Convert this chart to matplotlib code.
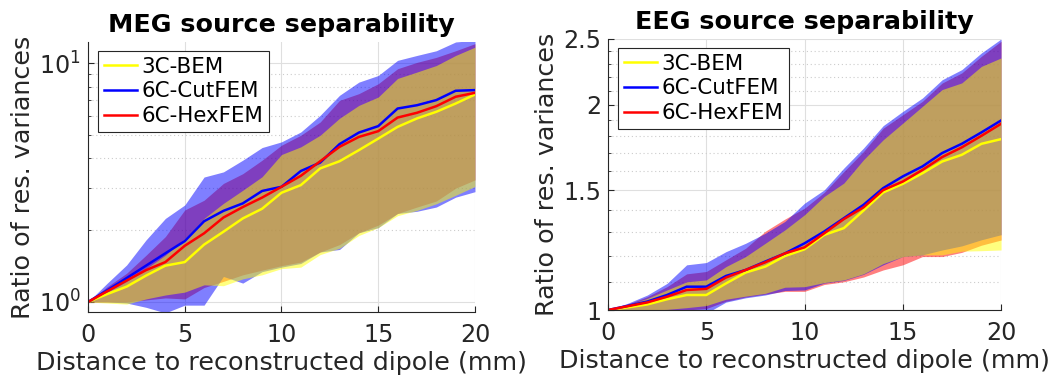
import numpy as np
import matplotlib.pyplot as plt
import matplotlib.ticker as ticker

plt.rcParams['font.family'] = ['DejaVu Sans']
plt.rcParams['mathtext.default'] = 'regular'

TXT = '#262626'

dist = np.arange(0, 21)
labels = ["3C-BEM", "6C-CutFEM", "6C-HexFEM"]
colors = ["yellow", "blue", "red"]

# MEG: mean line and band (low / high) per method
meg_bem = [1.0, 1.08, 1.16, 1.29, 1.42, 1.47, 1.74, 1.97, 2.24, 2.46, 2.87,
           3.09, 3.63, 3.89, 4.33, 4.84, 5.42, 5.88, 6.27, 6.79, 7.41]
meg_cut = [1.0, 1.12, 1.26, 1.42, 1.60, 1.80, 2.18, 2.41, 2.59, 2.92, 3.04,
           3.54, 3.84, 4.59, 5.13, 5.46, 6.47, 6.68, 7.02, 7.68, 7.73]
meg_hex = [1.0, 1.11, 1.23, 1.36, 1.47, 1.72, 1.94, 2.26, 2.50, 2.74, 3.04,
           3.38, 3.89, 4.47, 4.92, 5.20, 5.93, 6.21, 6.62, 7.25, 7.53]
meg_bem_hi = [1.0, 1.10, 1.22, 1.38, 1.57, 1.85, 2.24, 2.59, 2.94, 3.35, 4.15,
              4.47, 5.0, 5.89, 6.67, 7.23, 8.65, 9.2, 9.8, 10.8, 11.7]
meg_cut_hi = [1.0, 1.20, 1.43, 1.82, 2.24, 2.55, 3.34, 3.51, 3.93, 4.44, 4.69,
              5.16, 6.06, 7.35, 8.35, 8.9, 10.3, 10.8, 11.3, 12.3, 12.5]
meg_hex_hi = [1.0, 1.16, 1.32, 1.57, 1.88, 2.43, 2.67, 3.14, 3.45, 3.93, 4.54,
              5.0, 5.68, 7.0, 7.47, 8.22, 9.5, 10.1, 10.6, 11.3, 12.1]
meg_bem_lo = [1.0, 0.99, 0.98, 1.03, 1.07, 1.10, 1.18, 1.17, 1.25, 1.30, 1.38,
              1.40, 1.58, 1.68, 1.90, 2.05, 2.30, 2.42, 2.58, 2.80, 3.05]
meg_cut_lo = [1.0, 1.0, 0.99, 0.95, 0.90, 0.97, 0.97, 1.28, 1.20, 1.34, 1.40,
              1.45, 1.62, 1.66, 1.95, 2.05, 2.35, 2.40, 2.50, 2.75, 2.90]
meg_hex_lo = [1.0, 1.0, 1.0, 1.02, 1.04, 1.03, 1.15, 1.22, 1.30, 1.36, 1.42,
              1.47, 1.62, 1.74, 1.95, 2.10, 2.35, 2.50, 2.65, 3.0, 3.25]

# EEG
eeg_bem = [1.0, 1.009, 1.019, 1.037, 1.052, 1.052, 1.094, 1.135, 1.158, 1.2, 1.228,
           1.289, 1.319, 1.40, 1.488, 1.532, 1.588, 1.652, 1.69, 1.754, 1.782]
eeg_cut = [1.0, 1.014, 1.029, 1.052, 1.082, 1.082, 1.122, 1.145, 1.178, 1.211, 1.253,
           1.304, 1.364, 1.427, 1.510, 1.571, 1.625, 1.700, 1.754, 1.823, 1.898]
eeg_hex = [1.0, 1.013, 1.026, 1.046, 1.070, 1.074, 1.116, 1.145, 1.175, 1.211, 1.236,
           1.296, 1.360, 1.415, 1.50, 1.544, 1.606, 1.677, 1.733, 1.802, 1.877]
eeg_bem_hi = [1.0, 1.017, 1.04, 1.07, 1.10, 1.107, 1.158, 1.198, 1.253, 1.311, 1.38,
              1.468, 1.536, 1.662, 1.778, 1.881, 1.991, 2.107, 2.155, 2.279, 2.345]
eeg_cut_hi = [1.0, 1.023, 1.052, 1.094, 1.165, 1.174, 1.218, 1.253, 1.296, 1.349, 1.435,
              1.501, 1.616, 1.729, 1.865, 1.957, 2.048, 2.178, 2.254, 2.385, 2.50]
eeg_hex_hi = [1.0, 1.02, 1.046, 1.082, 1.13, 1.139, 1.185, 1.232, 1.305, 1.36, 1.411,
              1.488, 1.597, 1.709, 1.849, 1.935, 2.025, 2.154, 2.229, 2.358, 2.481]
eeg_bem_lo = [1.0, 1.0, 1.0, 1.002, 1.008, 1.015, 1.037, 1.048, 1.058, 1.08, 1.082,
              1.097, 1.107, 1.13, 1.17, 1.198, 1.205, 1.205, 1.22, 1.222, 1.225]
eeg_cut_lo = [1.0, 0.998, 0.996, 0.995, 0.99, 0.989, 1.027, 1.042, 1.052, 1.068, 1.07,
              1.095, 1.105, 1.128, 1.165, 1.198, 1.205, 1.225, 1.242, 1.268, 1.29]
eeg_hex_lo = [1.0, 1.0, 1.0, 1.0, 1.0, 1.005, 1.03, 1.045, 1.055, 1.065, 1.065,
              1.09, 1.10, 1.118, 1.145, 1.165, 1.198, 1.198, 1.215, 1.245, 1.267]


def plot_panel(ax, means, lows, highs, title):
    # bands: red first, then blue, yellow on top (as in the original)
    for i in [2, 1, 0]:
        ax.fill_between(dist, lows[i], highs[i], color=colors[i], alpha=0.5,
                        linewidth=0)
    for i in [0, 1, 2]:
        ax.plot(dist, means[i], color=colors[i], linewidth=1.8, label=labels[i])

    ax.set_yscale('log')
    ax.set_xlim(0, 20)
    ax.set_xticks([0, 5, 10, 15, 20])
    ax.set_title(title, fontsize=18.3, fontweight='bold', color='black', pad=7.5)
    ax.set_xlabel('Distance to reconstructed dipole (mm)', fontsize=18.3,
                  color=TXT, labelpad=3)
    ax.set_ylabel('Ratio of res. variances', fontsize=18.3, color=TXT, labelpad=3)

    ax.grid(True, which='major', color='#dfdfdf', linewidth=0.8)
    ax.grid(True, which='minor', color='#cccccc', linewidth=0.8, linestyle=(0, (1, 2.5)))
    ax.set_axisbelow(True)
    for s in ['top', 'right']:
        ax.spines[s].set_visible(False)
    for s in ['left', 'bottom']:
        ax.spines[s].set_color(TXT)
        ax.spines[s].set_linewidth(0.8)
    ax.tick_params(which='both', direction='in', colors=TXT, labelsize=17.2)
    ax.tick_params(which='major', length=4)
    ax.tick_params(which='minor', length=2)
    ax.tick_params(axis='x', which='both', pad=8)
    ax.tick_params(axis='y', which='both', pad=5)
    ax.tick_params(axis='x', which='minor', bottom=False)

    leg = ax.legend(loc='upper left', bbox_to_anchor=(0.025, 0.968), borderaxespad=0,
                    fontsize=15.4, frameon=True, fancybox=False, framealpha=1,
                    edgecolor=TXT, handlelength=1.55, handletextpad=0.2,
                    labelspacing=0.22, borderpad=0.28)
    leg.get_frame().set_linewidth(0.8)
    for t in leg.get_texts():
        t.set_color('black')


fig = plt.figure(figsize=(10.56, 3.83), dpi=100)
ax1 = fig.add_axes([0.0833, 0.1854, 0.3665, 0.705])
ax2 = fig.add_axes([0.5758, 0.1906, 0.3722, 0.7076])

plot_panel(ax1, [meg_bem, meg_cut, meg_hex],
           [meg_bem_lo, meg_cut_lo, meg_hex_lo],
           [meg_bem_hi, meg_cut_hi, meg_hex_hi], 'MEG source separability')
ax1.set_ylim(0.908, 12.3)
ax1.yaxis.set_major_locator(ticker.LogLocator(base=10))
ax1.yaxis.set_major_formatter(ticker.LogFormatterMathtext())

plot_panel(ax2, [eeg_bem, eeg_cut, eeg_hex],
           [eeg_bem_lo, eeg_cut_lo, eeg_hex_lo],
           [eeg_bem_hi, eeg_cut_hi, eeg_hex_hi], 'EEG source separability')
ax2.set_ylim(1, 2.5)
ax2.yaxis.set_major_locator(ticker.FixedLocator([1, 1.5, 2, 2.5]))
ax2.yaxis.set_major_formatter(ticker.FixedFormatter(['1', '1.5', '2', '2.5']))
ax2.yaxis.set_minor_locator(ticker.FixedLocator(
    [1.1, 1.2, 1.3, 1.4, 1.6, 1.7, 1.8, 1.9, 2.1, 2.2, 2.3, 2.4]))
ax2.yaxis.set_minor_formatter(ticker.NullFormatter())

fig.savefig('out.png', dpi=100)
